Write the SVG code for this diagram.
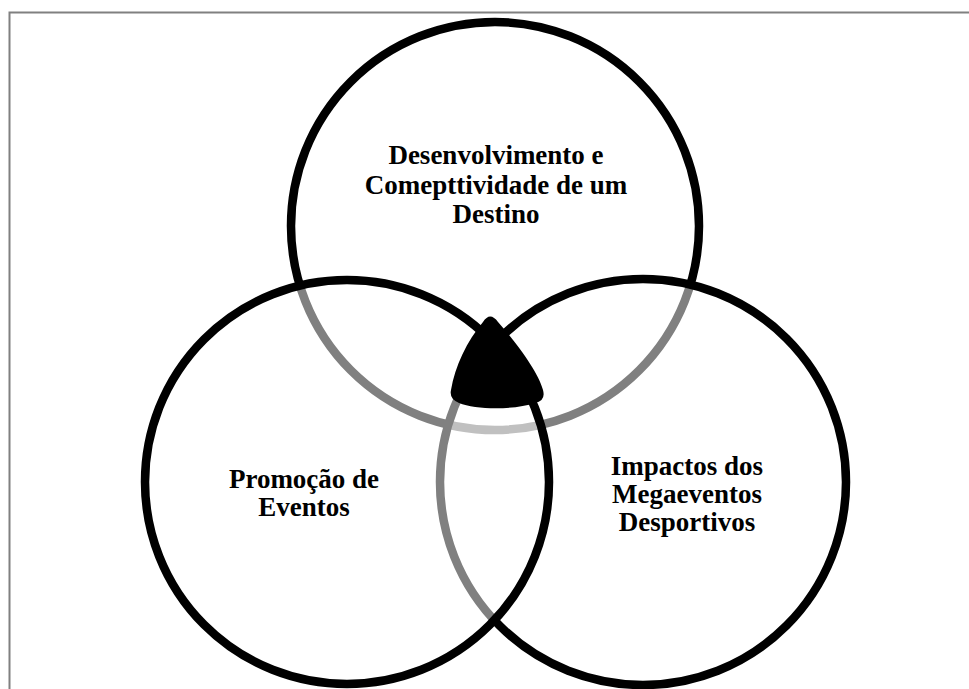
<svg xmlns="http://www.w3.org/2000/svg" width="969" height="689" viewBox="0 0 969 689">
  <style>
    .ring { fill: #ffffff; fill-opacity: 0.5; stroke: #000000; stroke-width: 8.5; }
    .lbl { font-family: "Liberation Serif", "Times New Roman", serif; font-weight: bold; font-size: 27px; fill: #000000; text-anchor: middle; }
  </style>
  <rect x="0" y="0" width="969" height="689" fill="#ffffff"/>
  <rect x="9.5" y="12.5" width="980" height="700" fill="none" stroke="#808080" stroke-width="2"/>
  <g id="node-destino">
    <circle class="ring" cx="495" cy="226" r="204"/>
    <text class="lbl" x="496" y="164">Desenvolvimento e</text>
    <text class="lbl" x="496" y="194">Comepttividade de um</text>
    <text class="lbl" x="496" y="223">Destino</text>
  </g>
  <g id="node-impactos">
    <circle class="ring" cx="643" cy="482" r="203"/>
    <text class="lbl" x="687" y="475">Impactos dos</text>
    <text class="lbl" x="687" y="503">Megaeventos</text>
    <text class="lbl" x="687" y="531">Desportivos</text>
  </g>
  <g id="node-promocao">
    <circle class="ring" cx="347" cy="482" r="202"/>
    <text class="lbl" x="304" y="488">Promoção de</text>
    <text class="lbl" x="304" y="516">Eventos</text>
  </g>
  <g id="node-centro">
    <path d="M 483,322 Q 490,311 498,322 C 518,345 538,372 543,390 Q 546,401 535,403 C 515,410 476,410 459,403 Q 449,399 451,390 C 455,366 467,341 483,322 Z" fill="#000000"/>
  </g>
  <g id="connectors"></g>
</svg>
